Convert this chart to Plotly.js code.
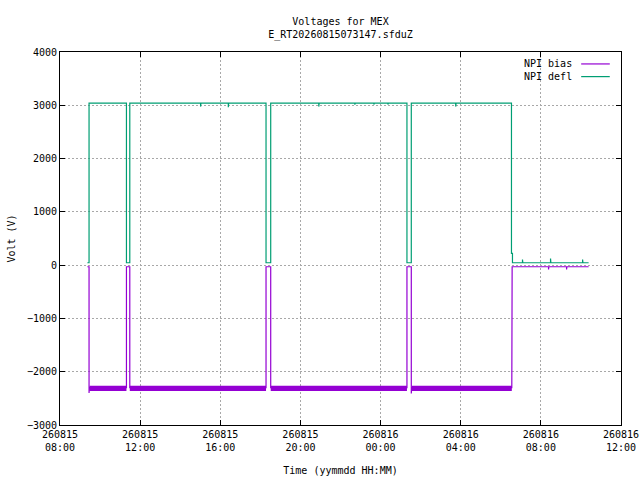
<!DOCTYPE html>
<html>
<head>
<meta charset="utf-8">
<script src="https://cdn.plot.ly/plotly-3.0.1.min.js"></script>
<style>html,body{margin:0;padding:0;background:#fff;}#chart{width:640px;height:480px;}</style>
</head>
<body>
<div id="chart"></div>
<script>
// ---- data ----
const biasTimes = [
  '2026-08-15 09:22','2026-08-15 09:27','2026-08-15 09:27','2026-08-15 09:28',
  '2026-08-15 11:19','2026-08-15 11:19','2026-08-15 11:29','2026-08-15 11:29',
  '2026-08-15 18:17','2026-08-15 18:17','2026-08-15 18:31','2026-08-15 18:31',
  '2026-08-16 01:19','2026-08-16 01:19','2026-08-16 01:32','2026-08-16 01:32','2026-08-16 01:33',
  '2026-08-16 06:33','2026-08-16 06:34',
  '2026-08-16 08:23','2026-08-16 08:23','2026-08-16 08:24',
  '2026-08-16 09:17','2026-08-16 09:17','2026-08-16 09:18','2026-08-16 10:23'
];
const biasVolts = [
  -30,-30,-2400,-2300,
  -2300,-30,-30,-2300,
  -2300,-30,-30,-2300,
  -2300,-30,-30,-2410,-2300,
  -2300,-30,
  -30,-80,-30,
  -30,-80,-30,-30
];
const deflTimes = [
  '2026-08-15 09:22','2026-08-15 09:27','2026-08-15 09:27',
  '2026-08-15 11:19','2026-08-15 11:19','2026-08-15 11:29','2026-08-15 11:29',
  '2026-08-15 15:01','2026-08-15 15:01','2026-08-15 15:02',
  '2026-08-15 16:24','2026-08-15 16:24','2026-08-15 16:25',
  '2026-08-15 18:17','2026-08-15 18:17','2026-08-15 18:31','2026-08-15 18:31',
  '2026-08-15 20:55','2026-08-15 20:55','2026-08-15 20:56',
  '2026-08-15 22:43','2026-08-15 22:43','2026-08-15 22:44',
  '2026-08-15 23:40','2026-08-15 23:40','2026-08-15 23:41',
  '2026-08-16 00:22','2026-08-16 00:22','2026-08-16 00:23',
  '2026-08-16 01:19','2026-08-16 01:19','2026-08-16 01:32','2026-08-16 01:32',
  '2026-08-16 03:45','2026-08-16 03:45','2026-08-16 03:46',
  '2026-08-16 06:32','2026-08-16 06:32','2026-08-16 06:35','2026-08-16 06:35',
  '2026-08-16 07:05','2026-08-16 07:05','2026-08-16 07:06',
  '2026-08-16 08:29','2026-08-16 08:29','2026-08-16 08:30',
  '2026-08-16 10:05','2026-08-16 10:05','2026-08-16 10:06','2026-08-16 10:23'
];
const deflVolts = [
  45,45,3040,
  3040,45,45,3040,
  3040,2975,3040,
  3040,2965,3040,
  3040,45,45,3040,
  3040,2975,3040,
  3040,3010,3040,
  3040,3015,3040,
  3040,3015,3040,
  3040,45,45,3040,
  3040,2975,3040,
  3040,220,220,45,
  45,105,45,
  45,125,45,
  45,105,45,45
];
// noise envelope of the bias while switched on
const bandStart = ['2026-08-15 09:28','2026-08-15 11:29','2026-08-15 18:31','2026-08-16 01:33'];
const bandEnd   = ['2026-08-15 11:19','2026-08-15 18:17','2026-08-16 01:19','2026-08-16 06:33'];
const bandHigh = -2262;
const bandLow  = -2360;

const tickVals = ['2026-08-15 08:00','2026-08-15 12:00','2026-08-15 16:00','2026-08-15 20:00',
                  '2026-08-16 00:00','2026-08-16 04:00','2026-08-16 08:00','2026-08-16 12:00'];
const tickText = ['260815<br>08:00','260815<br>12:00','260815<br>16:00','260815<br>20:00',
                  '260816<br>00:00','260816<br>04:00','260816<br>08:00','260816<br>12:00'];
const yTicks = [-3000,-2000,-1000,0,1000,2000,3000,4000];

const PURPLE = '#9400d3';
const GREEN = '#009e73';
const FONT = 'DejaVu Sans Mono';

const traces = [];
bandStart.forEach((s, i) => {
  traces.push({
    x: [s, bandEnd[i], bandEnd[i], s, s],
    y: [bandHigh, bandHigh, bandLow, bandLow, bandHigh],
    mode: 'lines', fill: 'toself', fillcolor: PURPLE,
    line: {width: 0, color: PURPLE}, showlegend: false, hoverinfo: 'skip'
  });
});
traces.push({x: biasTimes, y: biasVolts, mode: 'lines', name: 'NPI bias',
  line: {color: PURPLE, width: 1.2}, showlegend: false});
traces.push({x: deflTimes, y: deflVolts, mode: 'lines', name: 'NPI defl',
  line: {color: GREEN, width: 1.2}, showlegend: false});

const axisCommon = {
  showline: true, linecolor: '#000', linewidth: 1, mirror: 'ticks',
  ticks: 'inside', ticklen: 5, tickcolor: '#000', tickwidth: 1,
  showgrid: true, gridcolor: '#a8a8a8', gridwidth: 1, griddash: '2px,2px',
  zeroline: false, tickfont: {family: FONT, size: 10, color: '#000'}
};

const layout = {
  width: 640, height: 480,
  margin: {l: 60, r: 19, t: 52, b: 55},
  paper_bgcolor: '#fff', plot_bgcolor: '#fff',
  font: {family: FONT, size: 10, color: '#000'},
  title: {text: 'Voltages for MEX<br>E_RT20260815073147.sfduZ', x: 0.5, xref: 'paper',
          y: 0.947, yref: 'container', yanchor: 'top', font: {family: FONT, size: 10, color: '#000'}},
  xaxis: Object.assign({}, axisCommon, {
    type: 'date', range: ['2026-08-15 08:00', '2026-08-16 12:00'],
    tickmode: 'array', tickvals: tickVals, ticktext: tickText,
    title: {text: 'Time (yymmdd HH:MM)', font: {family: FONT, size: 10, color: '#000'}, standoff: 14}
  }),
  yaxis: Object.assign({}, axisCommon, {
    range: [-3000, 4000], tickmode: 'array', tickvals: yTicks,
    title: {text: 'Volt (V)', font: {family: FONT, size: 10, color: '#000'}, standoff: 9}
  }),
  showlegend: false,
  annotations: [
    {xref: 'paper', yref: 'paper', x: 0.9157, y: 0.968, xanchor: 'right', yanchor: 'middle',
     text: 'NPI bias', showarrow: false, font: {family: FONT, size: 10, color: '#000'}},
    {xref: 'paper', yref: 'paper', x: 0.9157, y: 0.934, xanchor: 'right', yanchor: 'middle',
     text: 'NPI defl', showarrow: false, font: {family: FONT, size: 10, color: '#000'}}
  ],
  shapes: [
    {type: 'line', xref: 'paper', yref: 'paper', x0: 0.929, x1: 0.980, y0: 0.968, y1: 0.968,
     line: {color: PURPLE, width: 1.2}},
    {type: 'line', xref: 'paper', yref: 'paper', x0: 0.929, x1: 0.980, y0: 0.934, y1: 0.934,
     line: {color: GREEN, width: 1.2}}
  ]
};

Plotly.newPlot('chart', traces, layout, {displayModeBar: false, staticPlot: true});
</script>
</body>
</html>
